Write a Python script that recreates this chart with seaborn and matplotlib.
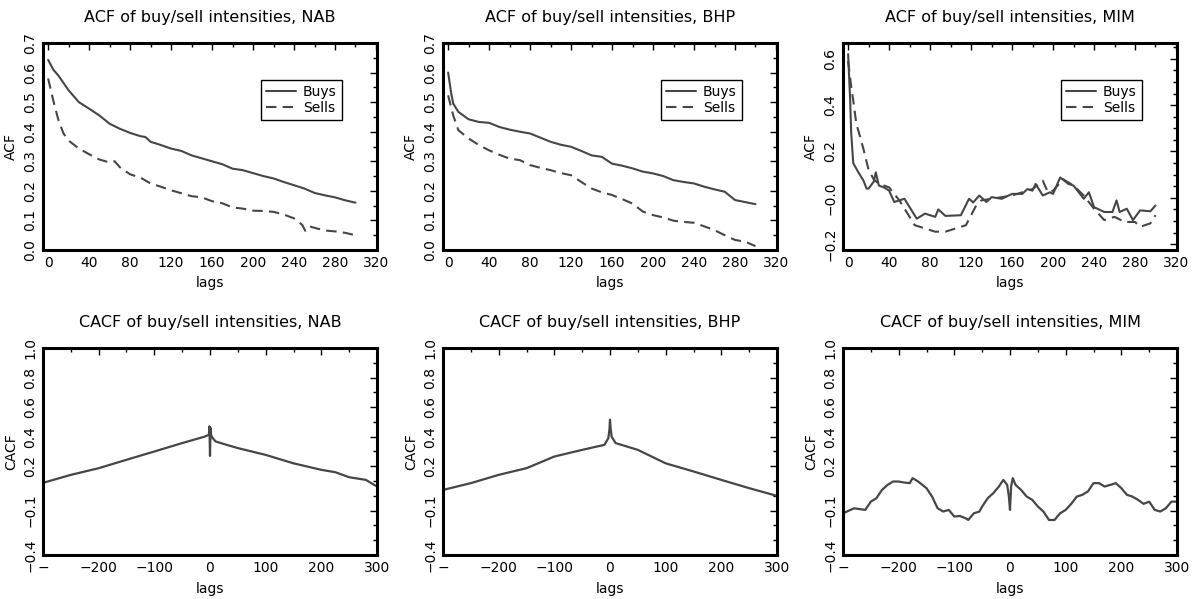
import matplotlib
matplotlib.use("Agg")
import matplotlib.pyplot as plt
from matplotlib.ticker import MultipleLocator, FixedLocator
import seaborn as sns

sns.set_theme(style="white")
plt.rcParams["font.family"] = ["DejaVu Sans"]
plt.rcParams["text.color"] = "black"
plt.rcParams["axes.labelcolor"] = "black"

LINE = "#464646"

# ---- ACF of buy/sell intensities (top row) ----
nab_buy_lag = [0, 2, 5, 10, 15, 20, 30, 40, 50, 60, 70, 80, 90, 95, 100, 110, 120, 130, 140, 150,
               160, 170, 180, 190, 200, 210, 220, 230, 240, 250, 260, 270, 280, 290, 300]
nab_buy_acf = [0.643, 0.63, 0.61, 0.59, 0.565, 0.54, 0.50, 0.478, 0.455, 0.427, 0.41, 0.396, 0.385,
               0.382, 0.366, 0.355, 0.343, 0.335, 0.32, 0.31, 0.30, 0.29, 0.275, 0.27, 0.26, 0.25,
               0.242, 0.23, 0.219, 0.208, 0.193, 0.185, 0.178, 0.168, 0.16]
nab_sell_lag = [0, 5, 10, 15, 20, 30, 40, 50, 60, 65, 70, 80, 90, 100, 110, 120, 130, 140, 150, 160,
                170, 180, 190, 200, 210, 220, 230, 240, 248, 251, 255, 260, 270, 280, 290, 300]
nab_sell_acf = [0.58, 0.506, 0.44, 0.394, 0.37, 0.343, 0.324, 0.306, 0.296, 0.30, 0.28, 0.256, 0.245,
                0.225, 0.214, 0.202, 0.192, 0.182, 0.178, 0.165, 0.158, 0.144, 0.14, 0.133, 0.132,
                0.129, 0.12, 0.107, 0.085, 0.065, 0.08, 0.075, 0.066, 0.063, 0.058, 0.05]

bhp_buy_lag = [0, 3, 5, 10, 20, 30, 40, 50, 60, 70, 80, 90, 100, 110, 120, 130, 140, 150, 160, 170,
               180, 190, 200, 210, 220, 230, 240, 250, 260, 270, 280, 290, 300]
bhp_buy_acf = [0.60, 0.53, 0.495, 0.467, 0.442, 0.433, 0.43, 0.416, 0.407, 0.40, 0.394, 0.38, 0.366,
               0.356, 0.349, 0.335, 0.32, 0.315, 0.292, 0.285, 0.276, 0.265, 0.259, 0.25, 0.236,
               0.23, 0.225, 0.214, 0.205, 0.197, 0.169, 0.162, 0.155]
bhp_sell_lag = [0, 5, 10, 20, 30, 40, 50, 60, 70, 80, 90, 100, 110, 120, 130, 140, 150, 160, 170, 180,
                190, 200, 210, 220, 230, 240, 250, 260, 270, 280, 290, 300]
bhp_sell_acf = [0.523, 0.455, 0.405, 0.377, 0.355, 0.337, 0.322, 0.309, 0.304, 0.287, 0.278, 0.27,
                0.26, 0.253, 0.23, 0.208, 0.195, 0.186, 0.172, 0.157, 0.13, 0.118, 0.11, 0.099,
                0.095, 0.092, 0.08, 0.067, 0.05, 0.034, 0.028, 0.013]

mim_buy_lag = [0, 2, 3, 5, 10, 15, 18, 20, 25, 27, 30, 35, 40, 45, 50, 55, 60, 67, 75, 85, 88, 95,
               110, 118, 122, 128, 135, 140, 150, 160, 170, 175, 180, 183, 190, 197, 200, 207, 215,
               220, 230, 235, 240, 250, 258, 262, 265, 272, 278, 285, 295, 300]
mim_buy_acf = [0.62, 0.42, 0.28, 0.15, 0.11, 0.074, 0.04, 0.04, 0.07, 0.11, 0.053, 0.045, 0.031,
               -0.018, -0.011, -0.004, -0.04, -0.09, -0.068, -0.082, -0.05, -0.078, -0.075, -0.004,
               -0.02, 0.01, -0.018, 0.003, -0.004, 0.017, 0.017, 0.038, 0.031, 0.06, 0.01, 0.024,
               0.017, 0.088, 0.06, 0.053, -0.004, 0.024, -0.04, -0.061, -0.061, -0.011, -0.061,
               -0.047, -0.096, -0.054, -0.058, -0.033]
mim_sell_lag = [0, 3, 5, 8, 10, 15, 20, 25, 30, 35, 40, 50, 60, 65, 75, 85, 95, 105, 115, 120, 125,
                130, 140, 160, 180, 190, 195, 200, 210, 220, 230, 240, 250, 260, 270, 280, 285, 295, 300]
mim_sell_acf = [0.59, 0.48, 0.42, 0.32, 0.29, 0.21, 0.12, 0.08, 0.06, 0.053, 0.045, -0.011, -0.082,
                -0.118, -0.132, -0.146, -0.146, -0.132, -0.118, -0.075, -0.033, -0.011, -0.004,
                0.01, 0.038, 0.074, 0.024, 0.031, 0.08, 0.053, 0.01, -0.047, -0.096, -0.082,
                -0.104, -0.104, -0.125, -0.11, -0.075]

# ---- CACF of buy/sell intensities (bottom row) ----
nab_cacf_lag = [-300, -250, -200, -150, -100, -50, -10, -2, -1, 0, 1, 2, 5, 10, 30, 50, 100, 150,
                200, 225, 250, 280, 300]
nab_cacf = [0.088, 0.142, 0.187, 0.244, 0.30, 0.357, 0.40, 0.413, 0.47, 0.27, 0.46, 0.41, 0.39,
            0.368, 0.345, 0.323, 0.277, 0.22, 0.176, 0.16, 0.126, 0.108, 0.063]

bhp_cacf_lag = [-300, -250, -200, -150, -100, -50, -10, -3, -1, 0, 1, 3, 10, 50, 100, 150, 200,
                250, 300]
bhp_cacf = [0.04, 0.086, 0.142, 0.187, 0.266, 0.311, 0.345, 0.39, 0.45, 0.515, 0.46, 0.40, 0.357,
            0.311, 0.22, 0.165, 0.108, 0.052, 0.0]

mim_cacf_lag = [-300, -280, -260, -250, -240, -230, -220, -210, -200, -190, -180, -175, -165, -150,
                -140, -130, -120, -110, -100, -90, -80, -75, -65, -55, -50, -40, -30, -20, -12, -5,
                -2, 0, 2, 5, 10, 20, 30, 40, 50, 60, 70, 80, 90, 100, 110, 120, 130, 140, 150, 160,
                170, 180, 190, 200, 210, 220, 230, 240, 250, 260, 270, 280, 290, 300]
mim_cacf = [-0.118, -0.084, -0.095, -0.039, -0.016, 0.04, 0.074, 0.097, 0.097, 0.09, 0.086, 0.12,
            0.097, 0.052, -0.005, -0.084, -0.106, -0.095, -0.14, -0.136, -0.151, -0.163, -0.118,
            -0.106, -0.072, -0.016, 0.018, 0.063, 0.108, 0.074, -0.005, -0.095, 0.063, 0.12, 0.074,
            0.04, -0.005, -0.027, -0.072, -0.106, -0.163, -0.163, -0.118, -0.095, -0.054, -0.005,
            0.007, 0.03, 0.086, 0.086, 0.063, 0.074, 0.086, 0.052, 0.007, -0.005, -0.027, -0.054,
            -0.039, -0.095, -0.106, -0.084, -0.039, -0.039]

stocks = ["NAB", "BHP", "MIM"]
acf_series = [
    (nab_buy_lag, nab_buy_acf, nab_sell_lag, nab_sell_acf),
    (bhp_buy_lag, bhp_buy_acf, bhp_sell_lag, bhp_sell_acf),
    (mim_buy_lag, mim_buy_acf, mim_sell_lag, mim_sell_acf),
]
cacf_series = [(nab_cacf_lag, nab_cacf), (bhp_cacf_lag, bhp_cacf), (mim_cacf_lag, mim_cacf)]

acf_xticks = [0, 40, 80, 120, 160, 200, 240, 280, 320]
acf_yticks = [0.0, 0.1, 0.2, 0.3, 0.4, 0.5, 0.6, 0.7]
mim_yticks = [-0.2, 0.0, 0.2, 0.4, 0.6]
mim_ylabels = ["\u22120.2", "\u22120.0", "0.2", "0.4", "0.6"]
cacf_xticks = [-300, -200, -100, 0, 100, 200, 300]
cacf_xlabels = ["\u2212", "\u2212200", "\u2212100", "0", "100", "200", "300"]
cacf_yticks = [-0.4, -0.1, 0.2, 0.4, 0.6, 0.8, 1.0]
cacf_ylabels = ["\u22120.4", "\u22120.1", "0.2", "0.4", "0.6", "0.8", "1.0"]


def frame(ax):
    for s in ax.spines.values():
        s.set_visible(True)
        s.set_linewidth(2.2)
        s.set_color("black")
    ax.tick_params(which="both", direction="in", top=True, right=True, colors="black",
                   labelsize=10, pad=4)
    ax.tick_params(which="major", length=5, width=1)
    ax.tick_params(which="minor", length=3, width=1)
    ax.set_facecolor("white")


fig = plt.figure(figsize=(12, 5.99), dpi=100)
lefts = [43 / 1200, 443 / 1200, 843 / 1200]
w, h = 334 / 1200, 207 / 599
top_bottom = 1 - 250 / 599
bot_bottom = 1 - 555 / 599

for i, name in enumerate(stocks):
    # ACF panel
    ax = fig.add_axes([lefts[i], top_bottom, w, h])
    bl, bv, sl, sv = acf_series[i]
    sns.lineplot(x=bl, y=bv, ax=ax, color=LINE, lw=1.5, label="Buys")
    sns.lineplot(x=sl, y=sv, ax=ax, color=LINE, lw=1.5, linestyle=(0, (5, 3)), label="Sells")
    ax.set_xlim(-5, 321)
    ax.xaxis.set_major_locator(FixedLocator(acf_xticks))
    ax.xaxis.set_minor_locator(MultipleLocator(20))
    if name == "MIM":
        ax.set_ylim(-0.225, 0.668)
        ax.yaxis.set_major_locator(FixedLocator(mim_yticks))
        ax.set_yticklabels(mim_ylabels, rotation=90, va="center")
    else:
        ax.set_ylim(0.0, 0.7)
        ax.yaxis.set_major_locator(FixedLocator(acf_yticks))
        ax.set_yticklabels([f"{t:.1f}" for t in acf_yticks], rotation=90, va="center")
    ax.yaxis.set_minor_locator(MultipleLocator(0.05))
    ax.set_title(f"ACF of buy/sell intensities, {name}", fontsize=11.5, pad=15)
    ax.set_xlabel("lags", fontsize=10, labelpad=5)
    ax.set_ylabel("ACF", fontsize=10, labelpad=4)
    frame(ax)
    leg = ax.legend(loc="upper right", bbox_to_anchor=(0.915, 0.855), fontsize=10,
                    frameon=True, fancybox=False, edgecolor="black", framealpha=1,
                    handlelength=2.2, borderpad=0.35, labelspacing=0.15, handletextpad=0.5)
    leg.get_frame().set_linewidth(1.0)

    # CACF panel
    ax = fig.add_axes([lefts[i], bot_bottom, w, h])
    cl, cv = cacf_series[i]
    sns.lineplot(x=cl, y=cv, ax=ax, color=LINE, lw=1.6)
    ax.set_xlim(-300, 300)
    ax.set_ylim(-0.4, 1.0)
    ax.xaxis.set_major_locator(FixedLocator(cacf_xticks))
    ax.set_xticklabels(cacf_xlabels)
    ax.xaxis.set_minor_locator(MultipleLocator(50))
    ax.yaxis.set_major_locator(FixedLocator(cacf_yticks))
    ax.set_yticklabels(cacf_ylabels, rotation=90, va="center")
    ax.yaxis.set_minor_locator(MultipleLocator(0.1))
    ax.set_title(f"CACF of buy/sell intensities, {name}", fontsize=11.5, pad=15)
    ax.set_xlabel("lags", fontsize=10, labelpad=5)
    ax.set_ylabel("CACF", fontsize=10, labelpad=4)
    frame(ax)

fig.savefig("out.png", dpi=100, facecolor="white")
